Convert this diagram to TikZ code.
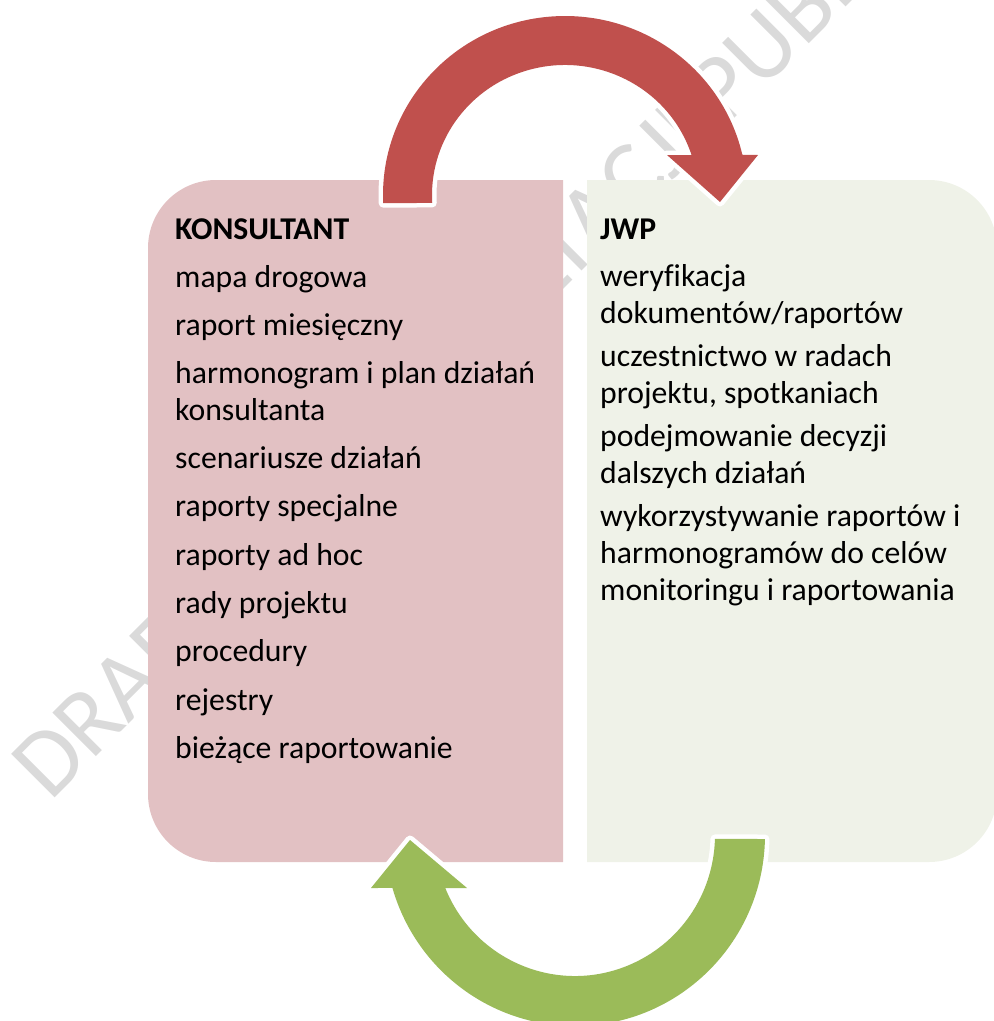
\documentclass[tikz,border=0pt]{standalone}
\usepackage{fontspec}
\setmainfont{Carlito}[Ligatures={NoCommon}]
\usetikzlibrary{calc}
\definecolor{CycleRed}{HTML}{C0504D}
\definecolor{CycleGreen}{HTML}{9BBB59}
\definecolor{CyclePaleRed}{HTML}{E2C1C3}
\definecolor{CyclePaleGreen}{HTML}{EFF2E8}
\definecolor{CycleMark}{HTML}{DADADA}
\tikzset{
  panel/.style={rounded corners=68pt},
  turn/.style={preaction={draw=white, line width=9pt, line join=round}},
  redturn/.style={turn, fill=CycleRed},
  greenturn/.style={turn, fill=CycleGreen},
  items/.style={anchor=north west, align=left, inner sep=0pt,
                font=\fontsize{31.7}{36.7}\selectfont},
  watermark/.style={anchor=base west, rotate=45, inner sep=0pt, text=CycleMark,
                    font=\fontsize{96}{96}\selectfont},
}

\begin{document}
\begin{tikzpicture}[x=1pt,y=-1pt]
  \useasboundingbox (0,0) rectangle (994,1021);
  \node[watermark] (draft) at (50,803) {DRAFT DO KONSULTACJI PUBLICZNYCH};
  % panels
  \begin{scope}
    \clip (148,180) rectangle (563,862);
    \fill[panel, CyclePaleRed] (148,180) rectangle (700,862);
  \end{scope}
  \begin{scope}
    \clip (587,180) rectangle (994,862);
    \fill[panel, CyclePaleGreen] (450,180) rectangle (997,862);
  \end{scope}
  % curved arrows
  \coordinate (redc) at (565,195);
  \coordinate (greenc) at (575,835);
  \fill[redturn] ($(redc)+(177.4:182 and 179)$)
      arc[start angle=177.4, end angle=347, x radius=182, y radius=179]
      -- (758,155) -- (720,202) -- (667,155)
      -- ($(redc)+(342.1:133 and 130)$)
      arc[start angle=342.1, end angle=176.5, x radius=133, y radius=130] -- cycle;
  \fill[greenturn] ($(greenc)+(1.2:190 and 191)$)
      arc[start angle=1.2, end angle=163.9, x radius=190, y radius=191]
      -- (371,888) -- (410,840) -- (467,888)
      -- ($(greenc)+(157.9:140 and 141)$)
      arc[start angle=157.9, end angle=1.6, x radius=140, y radius=141] -- cycle;
  % lists
  \node[items] (konsultant) at (175,218.7) {\textbf{KONSULTANT}\\[10.7pt]
    mapa drogowa\\[11.6pt]
    raport miesięczny\\[11.6pt]
    harmonogram i plan działań\\
    konsultanta\\[11.6pt]
    scenariusze działań\\[11.6pt]
    raporty specjalne\\[11.6pt]
    raporty ad hoc\\[11.6pt]
    rady projektu\\[11.6pt]
    procedury\\[11.6pt]
    rejestry\\[11.6pt]
    bieżące raportowanie};
  \node[items] (jwp) at (600,218.7) {\textbf{JWP}\\[10.7pt]
    weryfikacja\\
    dokumentów/raportów\\[6.6pt]
    uczestnictwo w radach\\
    projektu, spotkaniach\\[6.6pt]
    podejmowanie decyzji\\
    dalszych działań\\[6.6pt]
    wykorzystywanie raportów i\\
    harmonogramów do celów\\
    monitoringu i raportowania};
\end{tikzpicture}
\end{document}
